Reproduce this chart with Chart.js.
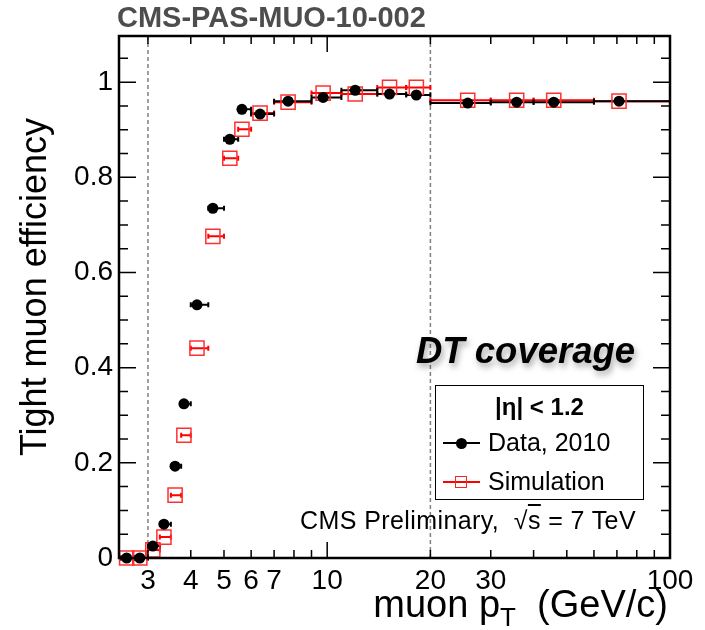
<!DOCTYPE html>
<html>
<head>
<meta charset="utf-8">
<script src="https://cdn.jsdelivr.net/npm/chart.js@4.4.1/dist/chart.umd.min.js"></script>
<style>
  body { margin: 0; background: #fff; }
  #wrap { position: relative; width: 705px; height: 630px; font-family: 'Liberation Sans', Arial, sans-serif; }
  #wrap div.t { position: absolute; white-space: nowrap; }
  .sym { position: absolute; }
</style>
</head>
<body>
<div id="wrap">
  <canvas id="effChart" width="705" height="630"></canvas>

  <div class="t" style="left:117px; top:3px; font-size:29px; line-height:29px; font-weight:bold; color:#4d4d4d;">CMS-PAS-MUO-10-002</div>

  <div class="t" style="left:34px; top:287px; width:400px; text-align:center; font-size:36px; line-height:36px; transform:translate(-50%,-50%) rotate(-90deg);">Tight muon efficiency</div>

  <div class="t" style="right:37px; top:585px; font-size:38px; line-height:38px;">muon p<span style="font-size:26px; position:relative; top:9px;">T</span>&nbsp;&nbsp;(GeV/c)</div>

  <div class="t" style="left:416px; top:333px; font-size:36.5px; line-height:36px; font-weight:bold; font-style:italic; text-shadow:2px 4px 6px rgba(0,0,0,0.35);">DT coverage</div>

  <div class="t" style="right:69px; top:508px; font-size:25px; line-height:25px; letter-spacing:0.4px;">CMS Preliminary,&nbsp;&nbsp;√<span style="text-decoration:overline;">s</span> = 7 TeV</div>

  <!-- legende -->
  <div style="position:absolute; left:435px; top:385px; width:207px; height:113px; border:1px solid #000; background:#fff;"></div>
  <div class="t" style="left:435px; width:209px; text-align:center; top:395px; font-size:24px; line-height:24px; font-weight:bold;">|η| &lt; 1.2</div>
  <div class="sym" style="left:443px; top:442px; width:37px; height:2px; background:#000;"></div>
  <div class="sym" style="left:456px; top:438px; width:11px; height:11px; border-radius:50%; background:#000;"></div>
  <div class="t" style="left:488px; top:430px; font-size:25px; line-height:25px;">Data, 2010</div>
  <div class="sym" style="left:443px; top:481px; width:37px; height:2px; background:#f00;"></div>
  <div class="sym" style="left:455px; top:476px; width:10px; height:10px; border:1.5px solid #f22;"></div>
  <div class="t" style="left:488px; top:469px; font-size:25px; line-height:25px;">Simulation</div>
</div>

<script>
    // bins in pT (GeV/c)
    const binLow  = [2.5, 2.75, 3, 3.25, 3.5, 3.75, 4, 4.5, 5, 5.5, 6, 7, 9, 11, 14, 17, 20, 30, 40, 60];
    const binHigh = [2.75, 3, 3.25, 3.5, 3.75, 4, 4.5, 5, 5.5, 6, 7, 9, 11, 14, 17, 20, 30, 40, 60, 100];
    const binMean = [2.6, 2.84, 3.1, 3.34, 3.6, 3.82, 4.17, 4.64, 5.2, 5.64, 6.37, 7.69, 9.73, 12.07, 15.2, 18.2, 25.7, 35.7, 45.8, 71.0];

    // efficiency
    const effData = [0, 0, 0.025, 0.071, 0.193, 0.324, 0.532, 0.735, 0.880, 0.943, 0.933, 0.960, 0.968, 0.983, 0.975, 0.973, 0.956, 0.958, 0.958, 0.960];
    const effSim  = [0, 0, 0.017, 0.044, 0.132, 0.258, 0.441, 0.676, 0.840, 0.901, 0.935, 0.958, 0.977, 0.975, 0.989, 0.989, 0.962, 0.962, 0.962, 0.960];

    const xTickLabels = [3, 4, 5, 6, 7, 10, 20, 30, 100];
    const yTickLabels = [0, 0.2, 0.4, 0.6, 0.8, 1];
    const xMinorTicks = [3, 4, 5, 6, 7, 8, 9, 20, 30, 40, 50, 60, 70, 80, 90];
    const xMajorTicks = [10, 100];
    const dashedAt = [3, 20];

    const dataPts = binMean.map((x, i) => ({ x: x, y: effData[i] }));
    const simPts = binMean.map((x, i) => ({ x: x, y: effSim[i] }));

    // -- error bars (x) + dashed lines, drawn below markers
    const errorBars = {
        id: 'errorBars',
        beforeDatasetsDraw(chart) {
            const { ctx, chartArea, scales: { x, y } } = chart;
            ctx.save();
            ctx.strokeStyle = '#808080';
            ctx.lineWidth = 1.5;
            ctx.setLineDash([4, 3]);
            dashedAt.forEach(v => {
                const px = x.getPixelForValue(v);
                ctx.beginPath();
                ctx.moveTo(px, chartArea.top);
                ctx.lineTo(px, chartArea.bottom);
                ctx.stroke();
            });
            ctx.setLineDash([]);
            ctx.lineWidth = 2;
            const bars = (vals, color) => {
                ctx.strokeStyle = color;
                vals.forEach((v, i) => {
                    const x0 = x.getPixelForValue(binLow[i]);
                    const x1 = x.getPixelForValue(binHigh[i]);
                    const py = y.getPixelForValue(v);
                    ctx.beginPath();
                    ctx.moveTo(x0, py); ctx.lineTo(x1, py);
                    ctx.moveTo(x0, py - 2.5); ctx.lineTo(x0, py + 2.5);
                    ctx.moveTo(x1, py - 2.5); ctx.lineTo(x1, py + 2.5);
                    ctx.stroke();
                });
            };
            bars(effSim, '#ff0000');
            bars(effData, '#000000');
            ctx.restore();
        }
    };

    // -- cadre + graduations vers l'interieur (style ROOT)
    const frameTicks = {
        id: 'frameTicks',
        afterDraw(chart) {
            const { ctx, chartArea: a, scales: { x, y } } = chart;
            ctx.save();
            ctx.strokeStyle = '#000';
            ctx.lineWidth = 1.5;
            const tick = (px, len) => {
                ctx.beginPath();
                ctx.moveTo(px, a.bottom); ctx.lineTo(px, a.bottom - len);
                ctx.moveTo(px, a.top); ctx.lineTo(px, a.top + len);
                ctx.stroke();
            };
            xMinorTicks.forEach(v => tick(x.getPixelForValue(v), 8));
            xMajorTicks.forEach(v => tick(x.getPixelForValue(v), 16));
            for (let k = 0; k <= 21; k++) {
                const v = k * 0.05;
                const py = y.getPixelForValue(v);
                const len = (k % 4 === 0) ? 17 : 9;
                ctx.beginPath();
                ctx.moveTo(a.left, py); ctx.lineTo(a.left + len, py);
                ctx.moveTo(a.right, py); ctx.lineTo(a.right - len, py);
                ctx.stroke();
            }
            ctx.lineWidth = 2.5;
            ctx.strokeRect(a.left, a.top, a.right - a.left, a.bottom - a.top);
            ctx.restore();
        }
    };

    const ctx = document.getElementById('effChart').getContext('2d');
    const effChart = new Chart(ctx, {
        type: 'scatter',
        data: {
            datasets: [{
                label: 'Data, 2010',
                data: dataPts,
                pointStyle: 'circle',
                pointRadius: 5.5,
                backgroundColor: '#000',
                borderColor: '#000',
                borderWidth: 0,
                clip: false
            }, {
                label: 'Simulation',
                data: simPts,
                pointStyle: 'rect',
                pointRadius: 10,
                backgroundColor: 'rgba(0,0,0,0)',
                borderColor: '#ff3030',
                borderWidth: 1.5,
                clip: false
            }]
        },
        options: {
            responsive: false,
            animation: false,
            layout: { padding: { top: 36, right: 35, left: 0, bottom: 0 } },
            plugins: { legend: { display: false }, tooltip: { enabled: false } },
            scales: {
                x: {
                    type: 'logarithmic',
                    min: 2.47,
                    max: 100,
                    afterBuildTicks: s => { s.ticks = xTickLabels.map(v => ({ value: v })); },
                    afterFit: s => { s.height = 72; },
                    grid: { display: false, drawTicks: false },
                    border: { display: false },
                    ticks: {
                        autoSkip: false, maxRotation: 0, padding: 6, color: '#000',
                        font: { family: "'Liberation Sans', Arial, sans-serif", size: 28 },
                        callback: v => String(v)
                    }
                },
                y: {
                    min: 0,
                    max: 1.097,
                    afterBuildTicks: s => { s.ticks = yTickLabels.map(v => ({ value: v })); },
                    afterFit: s => { s.width = 119; },
                    grid: { display: false, drawTicks: false },
                    border: { display: false },
                    ticks: {
                        padding: 6, color: '#000',
                        font: { family: "'Liberation Sans', Arial, sans-serif", size: 28 },
                        callback: v => (v === 0 || v === 1) ? String(v) : v.toFixed(1)
                    }
                }
            }
        },
        plugins: [errorBars, frameTicks]
    });
</script>
</body>
</html>
